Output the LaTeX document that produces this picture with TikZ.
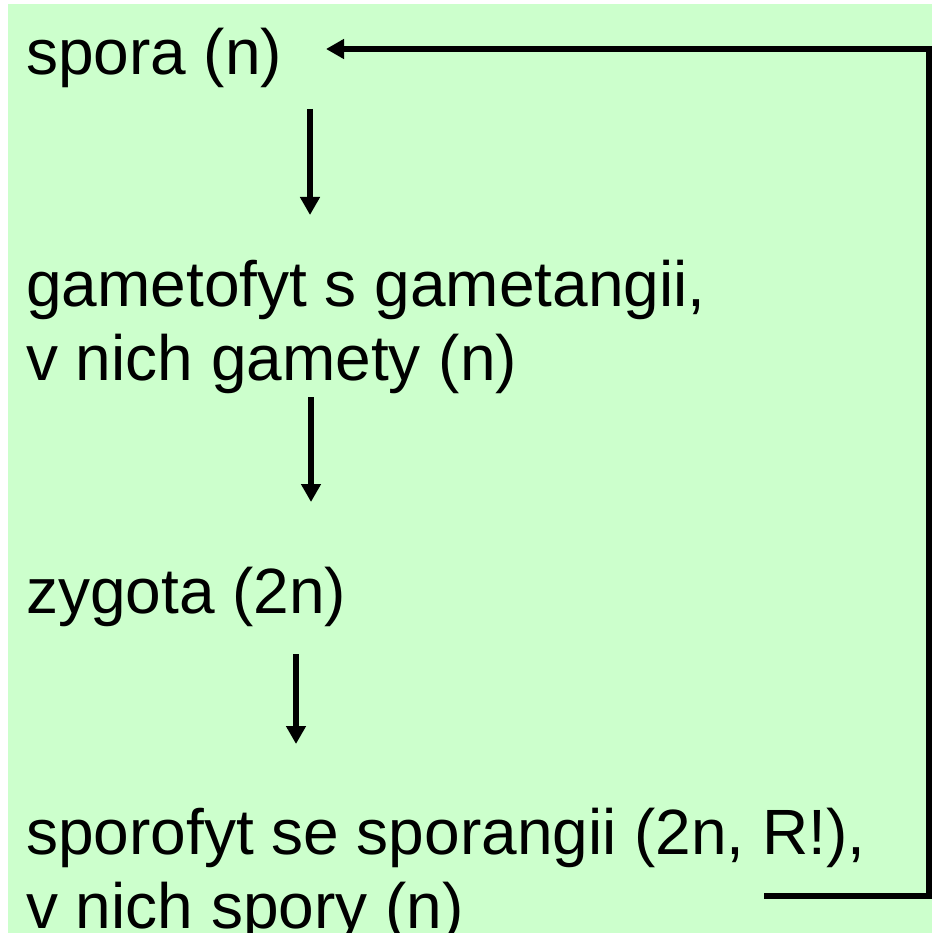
\documentclass[tikz,border=0pt]{standalone}
\usepackage{fontspec}
\setmainfont{Liberation Sans}
\usetikzlibrary{arrows.meta}
\definecolor{bggreen}{HTML}{CCFFCC}
\begin{document}
\begin{tikzpicture}[x=1pt,y=-1pt,
  lbl/.style={anchor=base west,inner sep=0pt,align=left,
    font=\fontsize{64pt}{74pt}\selectfont},
  arr/.style={line width=6pt,-{Triangle[length=18pt,width=19pt]}},
  loopline/.style={line width=6pt,line join=miter,-{Triangle[length=18pt,width=19pt]}}]
\useasboundingbox (0,0) rectangle (932,933);
\fill[bggreen] (8,4) rectangle (932,933);
\node[lbl] (spora) at (26,75) {spora (n)};
\node[lbl] (gam) at (26,380) {gametofyt s gametangii,\\v nich gamety (n)};
\node[lbl] (zyg) at (26,613) {zygota (2n)};
\node[lbl] (spf) at (26,928) {sporofyt se sporangii (2n, R!),\\v nich spory (n)};
\coordinate (a1s) at (310,109);
\coordinate (a1e) at (310,215);
\coordinate (a2s) at (311,397);
\coordinate (a2e) at (311,502);
\coordinate (a3s) at (296,654);
\coordinate (a3e) at (296,744);
\coordinate (ls) at (764,896);
\coordinate (lc1) at (929,896);
\coordinate (lc2) at (929,49);
\coordinate (le) at (326,49);
\draw[arr] (a1s) -- (a1e);
\draw[arr] (a2s) -- (a2e);
\draw[arr] (a3s) -- (a3e);
\draw[loopline] (ls) -- (lc1) -- (lc2) -- (le);
\end{tikzpicture}
\end{document}
